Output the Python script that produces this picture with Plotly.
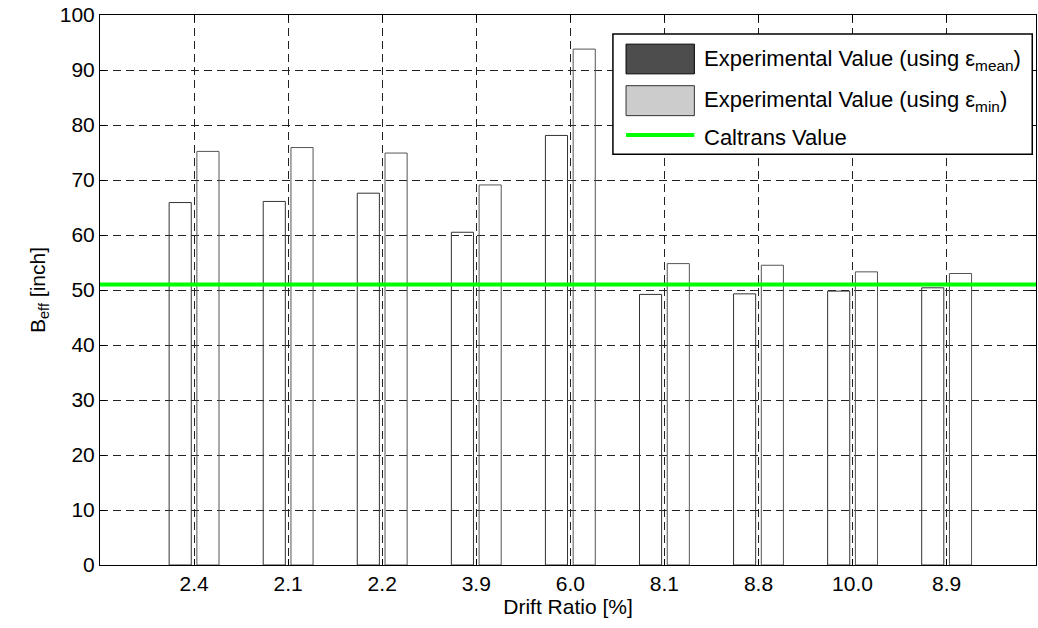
import plotly.graph_objects as go

# ---- data ----
drift_labels = ["2.4", "2.1", "2.2", "3.9", "6.0", "8.1", "8.8", "10.0", "8.9"]
positions = [1, 2, 3, 4, 5, 6, 7, 8, 9]
beff_mean = [65.9, 66.1, 67.6, 60.5, 78.1, 49.2, 49.3, 49.8, 50.4]
beff_min = [75.2, 75.9, 74.9, 69.1, 93.8, 54.8, 54.5, 53.3, 53.0]
caltrans_value = 51.0
y_ticks = [0, 10, 20, 30, 40, 50, 60, 70, 80, 90, 100]

FONT = "Liberation Sans, Arial, sans-serif"
FS = 21

fig = go.Figure()

fig.add_trace(go.Bar(
    x=positions, y=beff_mean, offset=-0.265, width=0.235,
    marker=dict(color="rgba(0,0,0,0)", line=dict(color="#333333", width=1)),
    showlegend=False, name="Experimental Value (using ε<sub>mean</sub>)",
))
fig.add_trace(go.Bar(
    x=positions, y=beff_min, offset=0.03, width=0.235,
    marker=dict(color="rgba(0,0,0,0)", line=dict(color="#555555", width=1)),
    showlegend=False, name="Experimental Value (using ε<sub>min</sub>)",
))

fig.add_hline(y=caltrans_value, line=dict(color="#00ff00", width=4), layer="above")

axis_common = dict(
    showline=True, linecolor="black", linewidth=1, mirror="ticks",
    ticks="inside", ticklen=6, tickcolor="black",
    showgrid=True, gridcolor="#222222", gridwidth=1, griddash="8px,5px",
    zeroline=False, automargin=True, ticklabeloverflow="allow",
    tickfont=dict(family=FONT, size=FS, color="black"),
)

fig.update_xaxes(
    range=[0, 9.95], tickmode="array", tickvals=positions, ticktext=drift_labels,
    title=dict(text="Drift Ratio [%]", font=dict(family=FONT, size=FS, color="black"), standoff=2),
    **axis_common,
)
fig.update_yaxes(
    range=[0, 100], tickmode="array", tickvals=y_ticks,
    title=dict(text="B<sub>eff</sub> [inch]", font=dict(family=FONT, size=FS, color="black"), standoff=8),
    **axis_common,
)

# ---- manual legend (MATLAB style) ----
shapes = [
    dict(type="rect", xref="paper", yref="paper", x0=0.548, x1=0.996, y0=0.747, y1=0.9655,
         line=dict(color="black", width=1.5), fillcolor="white", layer="above"),
    dict(type="rect", xref="paper", yref="paper", x0=0.562, x1=0.635, y0=0.893, y1=0.947,
         line=dict(color="black", width=1), fillcolor="#4d4d4d", layer="above"),
    dict(type="rect", xref="paper", yref="paper", x0=0.562, x1=0.635, y0=0.817, y1=0.8715,
         line=dict(color="#333333", width=1), fillcolor="#cccccc", layer="above"),
    dict(type="line", xref="paper", yref="paper", x0=0.562, x1=0.635, y0=0.7818, y1=0.7818,
         line=dict(color="#00ff00", width=4), layer="above"),
]
for s in shapes:
    fig.add_shape(**s)

legend_texts = [
    "Experimental Value (using ε<sub>mean</sub>)",
    "Experimental Value (using ε<sub>min</sub>)",
    "Caltrans Value",
]
legend_y = [0.918, 0.843, 0.778]
for t, yy in zip(legend_texts, legend_y):
    fig.add_annotation(
        text=t, xref="paper", yref="paper", x=0.643, y=yy, xanchor="left", yanchor="middle",
        showarrow=False, font=dict(family=FONT, size=22, color="black"),
    )

fig.update_layout(
    width=1038, height=628,
    margin=dict(l=100, r=2, t=15, b=63, autoexpand=False),
    paper_bgcolor="white", plot_bgcolor="white",
    barmode="overlay",
    font=dict(family=FONT, size=FS, color="black"),
)

fig.write_html(
    "out.html",
    config={"displayModeBar": False},
    post_script="document.body.style.margin='0';document.body.style.overflow='hidden';",
)
